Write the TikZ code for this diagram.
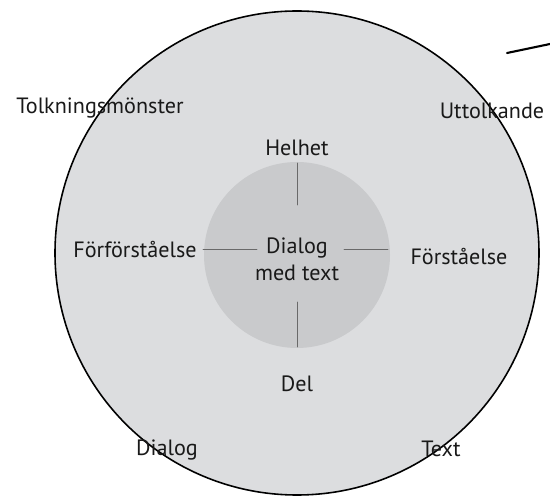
\documentclass[tikz,border=0pt]{standalone}
\usepackage{fontspec}
\setmainfont{PT Sans}
\definecolor{ytter}{RGB}{220,221,223}
\definecolor{inre}{RGB}{201,202,204}
\definecolor{eker}{RGB}{105,105,105}
\begin{document}
\begin{tikzpicture}[line join=round,line cap=round,font=\fontsize{12.6}{15.4}\selectfont,
	etikett/.style={text=black!90,inner sep=1pt},
	ekerlinje/.style={draw=eker,line width=0.4pt}]
	\def\R{4.84} % yttre cirkel
	\def\r{1.86} % inre cirkel
	\useasboundingbox (0,0) rectangle (11,9.9);
	\path
	(5.94,4.84) coordinate (O)
	(5.94,4.80) coordinate (I)
	(5.94,6.64) coordinate (H1)
	(5.94,5.80) coordinate (H2)
	(5.94,3.86) coordinate (D1)
	(5.94,2.96) coordinate (D2)
	(4.06,4.92) coordinate (V1)
	(5.14,4.92) coordinate (V2)
	(6.88,4.92) coordinate (F1)
	(7.76,4.92) coordinate (F2)
	(10.14,8.84) coordinate (S1)
	(11,9.02) coordinate (S2);
	% ve cirklar
	\draw[fill=ytter,line width=0.9pt] (O) circle (\R);
	\fill[inre] (I) circle (\r);
	% ekrar
	\draw[ekerlinje] (H1)--(H2) (D1)--(D2) (V1)--(V2) (F1)--(F2);
	% streck uppe till hoger
	\draw[line width=1.2pt] (S1)--(S2);
	% texter
	\node[etikett,align=center] (dialogtext) at (5.94,4.72) {Dialog\\med text};
	\node[etikett] (helhet) at (5.94,6.94) {Helhet};
	\node[etikett] (del) at (5.94,2.22) {Del};
	\node[etikett] (forforst) at (2.7,4.9) {Förförståelse};
	\node[etikett] (forst) at (9.18,4.76) {Förståelse};
	\node[etikett] (tolkning) at (2.0,7.74) {Tolkningsmönster};
	\node[etikett] (uttolk) at (9.84,7.68) {Uttolkande};
	\node[etikett] (dialog) at (3.34,0.9) {Dialog};
	\node[etikett] (text) at (8.82,0.92) {Text};
\end{tikzpicture}
\end{document}
